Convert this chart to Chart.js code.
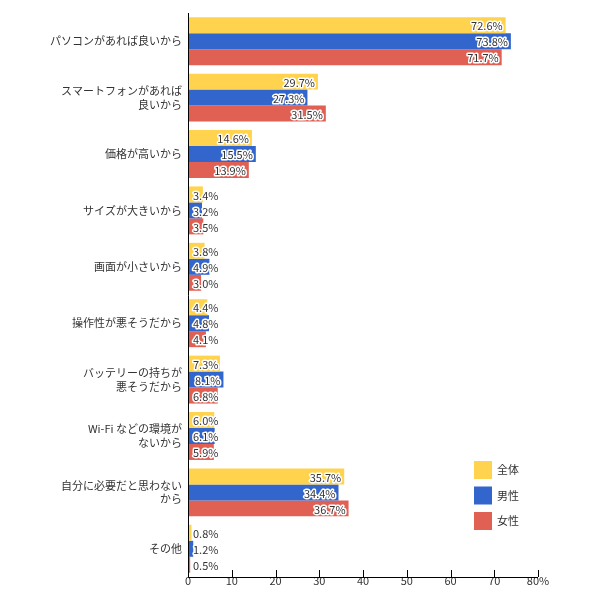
<!DOCTYPE html>
<html>
<head>
<meta charset="utf-8">
<script src="https://cdn.jsdelivr.net/npm/chart.js@4"></script>
<style>
  body { margin: 0; background: #fff; }
  #wrap { width: 600px; height: 600px; }
</style>
</head>
<body>
<div id="wrap"><canvas id="rBarChart" width="600" height="600"></canvas></div>
<script>
const categories = [
    'パソコンがあれば良いから',
    ['スマートフォンがあれば', '良いから'],
    '価格が高いから',
    'サイズが大きいから',
    '画面が小さいから',
    '操作性が悪そうだから',
    ['バッテリーの持ちが', '悪そうだから'],
    ['Wi-Fi などの環境が', 'ないから'],
    ['自分に必要だと思わない', 'から'],
    'その他'
];
const seriesNames = ['全体', '男性', '女性'];
const allValues = [72.6, 29.7, 14.6, 3.4, 3.8, 4.4, 7.3, 6.0, 35.7, 0.8];
const maleValues = [73.8, 27.3, 15.5, 3.2, 4.9, 4.8, 8.1, 6.1, 34.4, 1.2];
const femaleValues = [71.7, 31.5, 13.9, 3.5, 3.0, 4.1, 6.8, 5.9, 36.7, 0.5];
const xTicks = [0, 10, 20, 30, 40, 50, 60, 70, 80];
const colors = ['rgb(255, 211, 77)', 'rgb(51, 102, 204)', 'rgb(224, 97, 84)'];

Chart.defaults.font.family = '"Noto Sans CJK JP", "Noto Sans", sans-serif';
Chart.defaults.font.size = 11;
Chart.defaults.color = '#333';

// value labels at bar ends, white outline
const valueLabels = {
    id: 'valueLabels',
    afterDatasetsDraw(chart) {
        const ctx = chart.ctx;
        const base = chart.scales.x.getPixelForValue(0);
        ctx.save();
        ctx.font = '11px "Noto Sans CJK JP", sans-serif';
        ctx.textBaseline = 'middle';
        ctx.textAlign = 'left';
        ctx.lineJoin = 'round';
        chart.data.datasets.forEach((ds, i) => {
            const meta = chart.getDatasetMeta(i);
            meta.data.forEach((bar, j) => {
                const text = ds.data[j].toFixed(1) + '%';
                const w = ctx.measureText(text).width;
                let x = bar.x - 3 - w;
                if (x < base + 5) x = base + 5;
                ctx.strokeStyle = '#fff';
                ctx.lineWidth = 3;
                ctx.strokeText(text, x, bar.y + 1);
                ctx.fillStyle = '#333';
                ctx.fillText(text, x, bar.y + 1);
            });
        });
        ctx.restore();
    }
};

// axis lines, inner tick marks and legend boxes
const axisAndLegend = {
    id: 'axisAndLegend',
    afterDraw(chart) {
        const ctx = chart.ctx;
        const area = chart.chartArea;
        const xs = chart.scales.x;
        ctx.save();
        ctx.strokeStyle = '#000';
        ctx.lineWidth = 1;
        ctx.beginPath();
        ctx.moveTo(area.left + 0.5, area.top);
        ctx.lineTo(area.left + 0.5, area.bottom + 0.5);
        ctx.lineTo(area.right, area.bottom + 0.5);
        xTicks.forEach(v => {
            const px = Math.round(xs.getPixelForValue(v)) + 0.5;
            ctx.moveTo(px, area.bottom);
            ctx.lineTo(px, area.bottom - 7);
        });
        ctx.stroke();

        ctx.font = '11px "Noto Sans CJK JP", sans-serif';
        ctx.textBaseline = 'middle';
        ctx.textAlign = 'left';
        seriesNames.forEach((name, i) => {
            const y = 461 + i * 25.5;
            ctx.fillStyle = colors[i];
            ctx.fillRect(474, y, 18, 18);
            ctx.fillStyle = '#333';
            ctx.fillText(name, 497, y + 9);
        });
        ctx.restore();
    }
};

const barChartContex = document.getElementById('rBarChart').getContext('2d');
const barChart = new Chart(barChartContex, {
    type: 'bar',
    data: {
        labels: categories,
        datasets: [
            { label: seriesNames[0], data: allValues, backgroundColor: colors[0] },
            { label: seriesNames[1], data: maleValues, backgroundColor: colors[1] },
            { label: seriesNames[2], data: femaleValues, backgroundColor: colors[2] }
        ]
    },
    options: {
        indexAxis: 'y',
        responsive: false,
        animation: false,
        layout: { padding: { left: 0, right: 62, top: 13, bottom: 0 } },
        datasets: {
            bar: { categoryPercentage: 0.85, barPercentage: 1.0 }
        },
        plugins: {
            legend: { display: false },
            tooltip: { enabled: false }
        },
        scales: {
            x: {
                min: 0,
                max: 80,
                afterBuildTicks(scale) {
                    scale.ticks = xTicks.map(v => ({ value: v }));
                },
                afterFit(scale) { scale.height = 23; },
                grid: { display: false, drawTicks: false },
                border: { display: false },
                ticks: {
                    padding: -3,
                    maxRotation: 0,
                    color: '#333',
                    font: { size: 11 },
                    callback: v => v === 80 ? '80%' : String(v)
                }
            },
            y: {
                afterFit(scale) { scale.width = 188; },
                grid: { display: false, drawTicks: false },
                border: { display: false },
                ticks: {
                    padding: 6,
                    color: '#333',
                    font: { size: 11, lineHeight: 1.25 }
                }
            }
        }
    },
    plugins: [valueLabels, axisAndLegend]
});
</script>
</body>
</html>
